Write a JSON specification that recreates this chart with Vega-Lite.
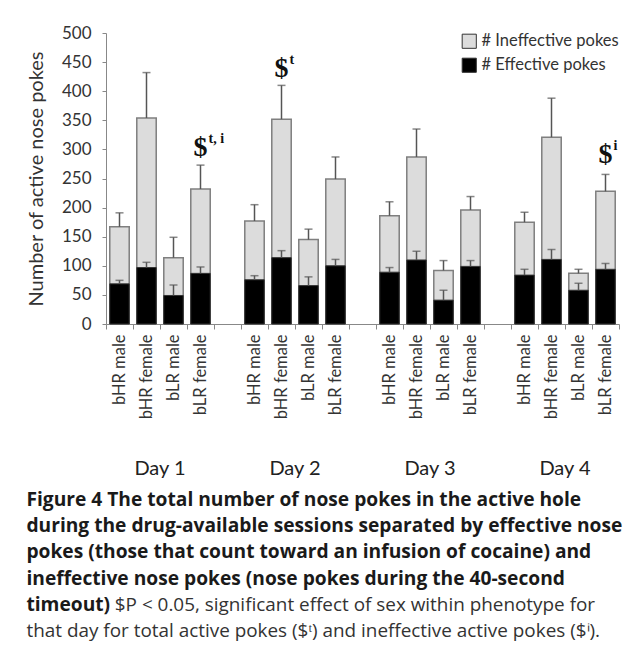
{
  "$schema": "https://vega.github.io/schema/vega-lite/v6.json",
  "padding": {"left": 26, "top": 24, "right": 7, "bottom": 8},
  "background": "white",
  "datasets": {
    "bars": [
      {"day": "Day 1", "group": "bHR male", "key": "Day 1|bHR male", "total": 167, "totalHi": 191, "eff": 69, "effHi": 75},
      {"day": "Day 1", "group": "bHR female", "key": "Day 1|bHR female", "total": 354, "totalHi": 432, "eff": 97, "effHi": 106},
      {"day": "Day 1", "group": "bLR male", "key": "Day 1|bLR male", "total": 114, "totalHi": 149, "eff": 49, "effHi": 67},
      {"day": "Day 1", "group": "bLR female", "key": "Day 1|bLR female", "total": 232, "totalHi": 273, "eff": 87, "effHi": 98},
      {"day": "Day 2", "group": "bHR male", "key": "Day 2|bHR male", "total": 177, "totalHi": 205, "eff": 76, "effHi": 83},
      {"day": "Day 2", "group": "bHR female", "key": "Day 2|bHR female", "total": 352, "totalHi": 410, "eff": 114, "effHi": 126},
      {"day": "Day 2", "group": "bLR male", "key": "Day 2|bLR male", "total": 145, "totalHi": 163, "eff": 66, "effHi": 81},
      {"day": "Day 2", "group": "bLR female", "key": "Day 2|bLR female", "total": 249, "totalHi": 287, "eff": 100, "effHi": 111},
      {"day": "Day 3", "group": "bHR male", "key": "Day 3|bHR male", "total": 186, "totalHi": 210, "eff": 89, "effHi": 97},
      {"day": "Day 3", "group": "bHR female", "key": "Day 3|bHR female", "total": 287, "totalHi": 335, "eff": 110, "effHi": 125},
      {"day": "Day 3", "group": "bLR male", "key": "Day 3|bLR male", "total": 92, "totalHi": 109, "eff": 41, "effHi": 58},
      {"day": "Day 3", "group": "bLR female", "key": "Day 3|bLR female", "total": 196, "totalHi": 219, "eff": 99, "effHi": 109},
      {"day": "Day 4", "group": "bHR male", "key": "Day 4|bHR male", "total": 175, "totalHi": 192, "eff": 84, "effHi": 94},
      {"day": "Day 4", "group": "bHR female", "key": "Day 4|bHR female", "total": 321, "totalHi": 388, "eff": 111, "effHi": 128},
      {"day": "Day 4", "group": "bLR male", "key": "Day 4|bLR male", "total": 87, "totalHi": 94, "eff": 58, "effHi": 70},
      {"day": "Day 4", "group": "bLR female", "key": "Day 4|bLR female", "total": 228, "totalHi": 257, "eff": 94, "effHi": 104}
    ],
    "notes": [
      {"key": "Day 1|bLR female", "level": 302, "sym": "$", "sup": "t, i"},
      {"key": "Day 2|bHR female", "level": 438, "sym": "$", "sup": "t"},
      {"key": "Day 4|bLR female", "level": 290, "sym": "$", "sup": "i"}
    ]
  },
  "title": {
    "text": [
      "Figure 4 The total number of nose pokes in the active hole",
      "during the drug-available sessions separated by effective nose",
      "pokes (those that count toward an infusion of cocaine) and",
      "ineffective nose pokes (nose pokes during the 40-second",
      "timeout)"
    ],
    "subtitle": [
      "\u200b\u00a0\u00a0\u00a0\u00a0\u00a0\u00a0\u00a0\u00a0\u00a0\u00a0\u00a0\u00a0\u00a0\u00a0\u00a0\u00a0. $P < 0.05, significant effect of sex within phenotype for",
      "that day for total active pokes ($ᵗ) and ineffective active pokes ($ⁱ)."
    ],
    "orient": "bottom",
    "anchor": "start",
    "dx": 0,
    "offset": 10,
    "font": "Open Sans",
    "fontSize": 19.2,
    "fontWeight": "bold",
    "lineHeight": 26.2,
    "color": "#1a1a1a",
    "subtitleFont": "Open Sans",
    "subtitleFontSize": 18.9,
    "subtitleFontWeight": "normal",
    "subtitleLineHeight": 26.2,
    "subtitlePadding": -19,
    "subtitleColor": "#333333"
  },
  "spacing": 38,
  "resolve": {"scale": {"x": "shared"}},
  "vconcat": [
    {
      "width": 513,
      "height": 291,
      "data": {"name": "bars"},
      "encoding": {
        "x": {
          "field": "key",
          "type": "nominal",
          "title": null,
          "scale": {
            "domain": [
              "Day 1|bHR male", "Day 1|bHR female", "Day 1|bLR male", "Day 1|bLR female", " ",
              "Day 2|bHR male", "Day 2|bHR female", "Day 2|bLR male", "Day 2|bLR female", "  ",
              "Day 3|bHR male", "Day 3|bHR female", "Day 3|bLR male", "Day 3|bLR female", "   ",
              "Day 4|bHR male", "Day 4|bHR female", "Day 4|bLR male", "Day 4|bLR female"
            ],
            "paddingInner": 0,
            "paddingOuter": 0
          },
          "axis": {
            "labelExpr": "isString(datum.value) ? substring(datum.value, 6) : ''",
            "labelAngle": -90,
            "labelFontSize": 16.5,
            "labelColor": "#333333",
            "labelPadding": 5,
            "tickBand": "extent",
            "tickSize": 5,
            "tickColor": "#888888",
            "domainColor": "#888888",
            "labelFont": "Lato"
          }
        }
      },
      "layer": [
        {
          "mark": {"type": "bar", "width": {"band": 0.72}, "stroke": "#7f7f7f", "strokeWidth": 1.5},
          "encoding": {
            "y": {
              "field": "total",
              "type": "quantitative",
              "title": "Number of active nose pokes",
              "scale": {"domain": [0, 500], "nice": false},
              "axis": {"values": [0, 50, 100, 150, 200, 250, 300, 350, 400, 450, 500], "labelOverlap": false, "grid": false, "labelFont": "Lato", "labelFontSize": 17, "labelColor": "#333333", "labelPadding": 11, "tickSize": 4, "tickColor": "#888888", "domainColor": "#888888", "titleFont": "Lato", "titleFontSize": 20, "titleFontWeight": "normal", "titleColor": "#333333", "titlePadding": 15}
            },
            "color": {
              "datum": "# Ineffective pokes",
              "type": "nominal",
              "scale": {"domain": ["# Ineffective pokes", "# Effective pokes"], "range": ["#dcdcdc", "#000000"]},
              "legend": {
                "title": null,
                "orient": "top-right",
                "offset": 0,
                "padding": 0,
                "symbolType": "square",
                "symbolSize": 200,
                "symbolStrokeColor": "#888888",
                "symbolStrokeWidth": 1,
                "labelFont": "Lato",
                "labelFontSize": 16.5,
                "labelColor": "#333333",
                "rowPadding": 5,
                "labelOffset": 4
              }
            }
          }
        },
        {
          "mark": {"type": "bar", "width": {"band": 0.72}, "stroke": "#333333", "strokeWidth": 1},
          "encoding": {
            "y": {"field": "eff", "type": "quantitative", "title": "Number of active nose pokes",
              "axis": {"values": [0, 50, 100, 150, 200, 250, 300, 350, 400, 450, 500], "labelOverlap": false, "grid": false, "labelFont": "Lato", "labelFontSize": 17, "labelColor": "#333333", "labelPadding": 11, "tickSize": 4, "tickColor": "#888888", "domainColor": "#888888", "titleFont": "Lato", "titleFontSize": 20, "titleFontWeight": "normal", "titleColor": "#333333", "titlePadding": 15}},
            "color": {"datum": "# Effective pokes", "type": "nominal"}
          }
        },
        {
          "mark": {"type": "rule", "color": "#555555", "strokeWidth": 1.5},
          "encoding": {
            "y": {"field": "total", "type": "quantitative", "title": "Number of active nose pokes",
              "axis": {"values": [0, 50, 100, 150, 200, 250, 300, 350, 400, 450, 500], "labelOverlap": false, "grid": false, "labelFont": "Lato", "labelFontSize": 17, "labelColor": "#333333", "labelPadding": 11, "tickSize": 4, "tickColor": "#888888", "domainColor": "#888888", "titleFont": "Lato", "titleFontSize": 20, "titleFontWeight": "normal", "titleColor": "#333333", "titlePadding": 15}},
            "y2": {"field": "totalHi"}
          }
        },
        {
          "mark": {"type": "tick", "color": "#555555", "size": 8, "thickness": 1.5},
          "encoding": {
            "y": {"field": "totalHi", "type": "quantitative", "title": "Number of active nose pokes",
              "axis": {"values": [0, 50, 100, 150, 200, 250, 300, 350, 400, 450, 500], "labelOverlap": false, "grid": false, "labelFont": "Lato", "labelFontSize": 17, "labelColor": "#333333", "labelPadding": 11, "tickSize": 4, "tickColor": "#888888", "domainColor": "#888888", "titleFont": "Lato", "titleFontSize": 20, "titleFontWeight": "normal", "titleColor": "#333333", "titlePadding": 15}}
          }
        },
        {
          "mark": {"type": "rule", "color": "#555555", "strokeWidth": 1.5},
          "encoding": {
            "y": {"field": "eff", "type": "quantitative", "title": "Number of active nose pokes",
              "axis": {"values": [0, 50, 100, 150, 200, 250, 300, 350, 400, 450, 500], "labelOverlap": false, "grid": false, "labelFont": "Lato", "labelFontSize": 17, "labelColor": "#333333", "labelPadding": 11, "tickSize": 4, "tickColor": "#888888", "domainColor": "#888888", "titleFont": "Lato", "titleFontSize": 20, "titleFontWeight": "normal", "titleColor": "#333333", "titlePadding": 15}},
            "y2": {"field": "effHi"}
          }
        },
        {
          "mark": {"type": "tick", "color": "#555555", "size": 8, "thickness": 1.5},
          "encoding": {
            "y": {"field": "effHi", "type": "quantitative", "title": "Number of active nose pokes",
              "axis": {"values": [0, 50, 100, 150, 200, 250, 300, 350, 400, 450, 500], "labelOverlap": false, "grid": false, "labelFont": "Lato", "labelFontSize": 17, "labelColor": "#333333", "labelPadding": 11, "tickSize": 4, "tickColor": "#888888", "domainColor": "#888888", "titleFont": "Lato", "titleFontSize": 20, "titleFontWeight": "normal", "titleColor": "#333333", "titlePadding": 15}}
          }
        },
        {
          "data": {"name": "notes"},
          "mark": {"type": "text", "font": "Liberation Serif", "fontWeight": "bold", "fontSize": 28, "baseline": "middle", "align": "center", "color": "#111111"},
          "encoding": {
            "y": {"field": "level", "type": "quantitative", "title": "Number of active nose pokes",
              "axis": {"values": [0, 50, 100, 150, 200, 250, 300, 350, 400, 450, 500], "labelOverlap": false, "grid": false, "labelFont": "Lato", "labelFontSize": 17, "labelColor": "#333333", "labelPadding": 11, "tickSize": 4, "tickColor": "#888888", "domainColor": "#888888", "titleFont": "Lato", "titleFontSize": 20, "titleFontWeight": "normal", "titleColor": "#333333", "titlePadding": 15}},
            "text": {"field": "sym"}
          }
        },
        {
          "data": {"name": "notes"},
          "mark": {"type": "text", "font": "Liberation Serif", "fontWeight": "bold", "fontSize": 14, "baseline": "middle", "align": "left", "dx": 8, "dy": -9, "color": "#111111"},
          "encoding": {
            "y": {"field": "level", "type": "quantitative", "title": "Number of active nose pokes",
              "axis": {"values": [0, 50, 100, 150, 200, 250, 300, 350, 400, 450, 500], "labelOverlap": false, "grid": false, "labelFont": "Lato", "labelFontSize": 17, "labelColor": "#333333", "labelPadding": 11, "tickSize": 4, "tickColor": "#888888", "domainColor": "#888888", "titleFont": "Lato", "titleFontSize": 20, "titleFontWeight": "normal", "titleColor": "#333333", "titlePadding": 15}},
            "text": {"field": "sup"}
          }
        }
      ]
    },
    {
      "width": 513,
      "height": 24,
      "data": {"name": "bars"},
      "transform": [{"filter": "datum.group === 'bHR female'"}],
      "mark": {"type": "text", "font": "Lato", "fontSize": 20, "color": "#222222", "baseline": "middle"},
      "encoding": {
        "x": {"field": "key", "type": "nominal", "bandPosition": 1, "axis": null},
        "text": {"field": "day"}
      }
    }
  ],
  "config": {
    "view": {"stroke": null},
    "font": "Lato"
  }
}
